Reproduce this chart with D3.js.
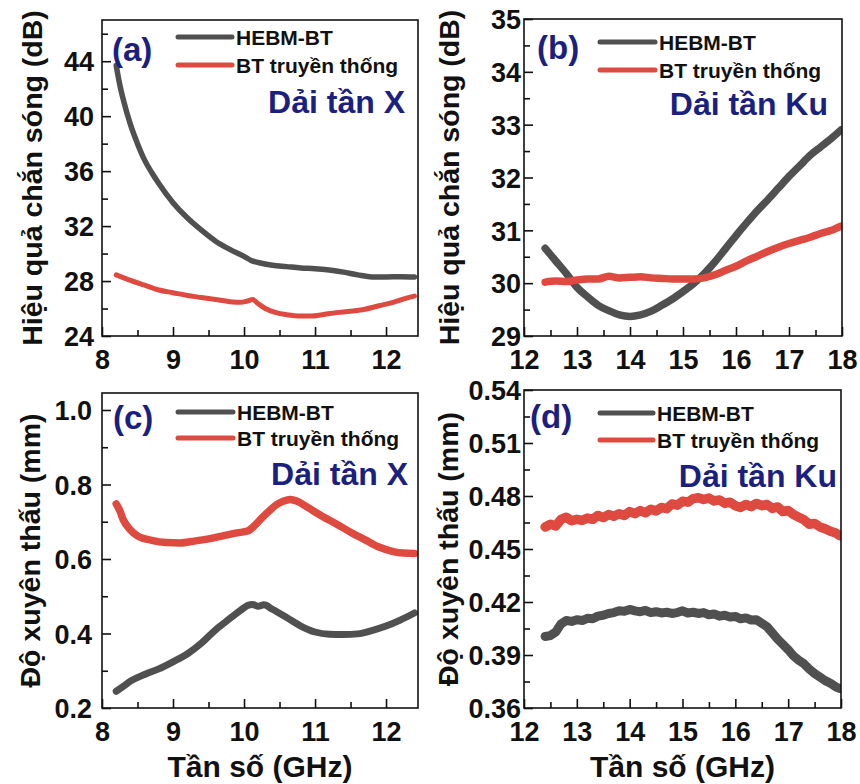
<!DOCTYPE html>
<html><head><meta charset="utf-8">
<script src="https://cdn.jsdelivr.net/npm/d3@7"></script>
<style>
body{margin:0;background:#fff;}
svg text{font-family:"Liberation Sans",Arial,Helvetica,sans-serif;font-weight:bold;}
</style></head>
<body><svg id="c" width="860" height="784"></svg>
<script>
// ---------- data ----------
const seriesNames = ["HEBM-BT", "BT truyền thống"];
const bandLabels = ["Dải tần X", "Dải tần Ku"];
const panelLetters = ["(a)", "(b)", "(c)", "(d)"];
const yTitleSE = "Hiệu quả chắn sóng (dB)";
const yTitleDepth = "Độ xuyên thấu (mm)";
const xTitle = "Tần số (GHz)";

const xTicksX = [8, 9, 10, 11, 12];
const xTicksKu = [12, 13, 14, 15, 16, 17, 18];
const yTicksA = [24, 28, 32, 36, 40, 44];
const yTicksB = [29, 30, 31, 32, 33, 34, 35];
const yTicksC = [0.2, 0.4, 0.6, 0.8, 1.0];
const yTicksD = [0.36, 0.39, 0.42, 0.45, 0.48, 0.51, 0.54];

// (a) shielding effectiveness, X band
const freqA_HEBM = [8.20,8.25,8.30,8.40,8.50,8.60,8.70,8.80,9.00,9.20,9.40,9.60,9.80,10.00,10.10,10.20,10.40,10.60,10.80,11.00,11.20,11.40,11.60,11.80,12.00,12.20,12.40];
const seA_HEBM   = [43.7,42.3,41.2,39.4,38.0,36.8,35.9,35.1,33.7,32.6,31.7,30.9,30.3,29.8,29.5,29.35,29.15,29.05,28.95,28.9,28.8,28.65,28.45,28.3,28.3,28.32,28.3];
const freqA_BT   = [8.20,8.40,8.60,8.80,9.00,9.20,9.40,9.60,9.80,9.95,10.05,10.12,10.20,10.30,10.45,10.60,10.80,10.95,11.10,11.30,11.50,11.70,11.90,12.10,12.25,12.40];
const seA_BT     = [28.45,28.05,27.7,27.35,27.15,26.95,26.8,26.65,26.5,26.45,26.55,26.65,26.35,26.0,25.7,25.55,25.45,25.45,25.55,25.7,25.8,25.95,26.2,26.45,26.7,26.9];

// (b) shielding effectiveness, Ku band
const freqB_HEBM = [12.40,12.60,12.80,13.00,13.20,13.40,13.60,13.80,14.00,14.20,14.40,14.60,14.80,15.00,15.20,15.40,15.60,15.80,16.00,16.20,16.40,16.60,16.80,17.00,17.20,17.40,17.60,17.80,17.98];
const seB_HEBM   = [30.66,30.42,30.18,29.92,29.74,29.58,29.48,29.40,29.37,29.40,29.47,29.58,29.70,29.84,29.99,30.18,30.40,30.65,30.90,31.14,31.37,31.58,31.80,32.02,32.22,32.42,32.58,32.74,32.90];
const freqB_BT   = [12.40,12.60,12.80,13.00,13.20,13.40,13.60,13.80,14.00,14.20,14.40,14.60,14.80,15.00,15.20,15.40,15.60,15.80,16.00,16.20,16.40,16.60,16.80,17.00,17.20,17.40,17.60,17.80,17.98];
const seB_BT     = [30.02,30.04,30.03,30.06,30.08,30.08,30.13,30.10,30.11,30.12,30.10,30.09,30.08,30.08,30.08,30.10,30.16,30.24,30.32,30.42,30.51,30.60,30.68,30.75,30.81,30.87,30.94,31.00,31.08];

// (c) skin depth, X band
const freqC_HEBM = [8.20,8.30,8.40,8.60,8.80,9.00,9.20,9.40,9.60,9.80,9.95,10.05,10.12,10.20,10.28,10.40,10.60,10.80,11.00,11.20,11.40,11.60,11.80,12.00,12.20,12.40];
const depthC_HEBM= [0.245,0.258,0.272,0.290,0.305,0.324,0.345,0.374,0.410,0.440,0.462,0.475,0.478,0.473,0.477,0.465,0.443,0.420,0.404,0.398,0.397,0.399,0.408,0.420,0.436,0.455];
const freqC_BT   = [8.20,8.25,8.30,8.40,8.50,8.70,8.90,9.10,9.30,9.50,9.70,9.90,10.05,10.15,10.25,10.35,10.45,10.55,10.65,10.75,10.90,11.10,11.30,11.50,11.70,11.90,12.10,12.25,12.40];
const depthC_BT  = [0.748,0.730,0.705,0.678,0.662,0.650,0.644,0.643,0.648,0.654,0.662,0.670,0.675,0.690,0.710,0.728,0.745,0.755,0.760,0.755,0.738,0.715,0.694,0.672,0.652,0.632,0.620,0.616,0.615];

// (d) skin depth, Ku band
const freqD = [12.40,12.50,12.60,12.70,12.80,12.90,13.00,13.10,13.20,13.30,13.40,13.50,13.60,13.70,13.80,13.90,14.00,14.10,14.20,14.30,14.40,14.50,14.60,14.70,14.80,14.90,15.00,15.10,15.20,15.30,15.40,15.50,15.60,15.70,15.80,15.90,16.00,16.10,16.20,16.30,16.40,16.50,16.60,16.70,16.80,16.90,17.00,17.10,17.20,17.30,17.40,17.50,17.60,17.70,17.80,17.90,17.98];
const depthD_BT = [0.4625,0.4640,0.4630,0.4668,0.4680,0.4660,0.4668,0.4662,0.4675,0.4668,0.4690,0.4678,0.4695,0.4685,0.4700,0.4690,0.4712,0.4700,0.4718,0.4705,0.4725,0.4715,0.4735,0.4728,0.4755,0.4748,0.4770,0.4765,0.4785,0.4790,0.4780,0.4788,0.4772,0.4778,0.4758,0.4765,0.4745,0.4735,0.4752,0.4740,0.4758,0.4745,0.4752,0.4730,0.4738,0.4712,0.4718,0.4695,0.4680,0.4665,0.4640,0.4645,0.4625,0.4615,0.4600,0.4590,0.4575];
const depthD_HEBM = [0.4005,0.4010,0.4030,0.4075,0.4095,0.4090,0.4100,0.4095,0.4108,0.4105,0.4120,0.4125,0.4135,0.4140,0.4150,0.4148,0.4158,0.4150,0.4145,0.4152,0.4140,0.4145,0.4138,0.4142,0.4135,0.4140,0.4150,0.4138,0.4142,0.4135,0.4140,0.4128,0.4132,0.4120,0.4125,0.4115,0.4118,0.4105,0.4110,0.4098,0.4100,0.4080,0.4060,0.4025,0.3990,0.3960,0.3930,0.3895,0.3870,0.3850,0.3820,0.3795,0.3775,0.3755,0.3740,0.3720,0.3710];

// ---------- styling ----------
const GRAY = "#505050", RED = "#de4a3f", NAVY = "#1b1f80";
const svg = d3.select("#c");

const panels = [
  {box:[102,20,418,336], xd:[8,12.45], yd:[24,47], xt:xTicksX, yt:yTicksA, xm:0.5, ym:2, yfmt:d3.format("d"),
   series:[[freqA_HEBM,seA_HEBM],[freqA_BT,seA_BT]], sw:[5.5,5], letter:panelLetters[0], band:bandLabels[0],
   ytitle:yTitleSE, ytx:32, lab:[10,41], leg:[76,130,17,45], bandPos:[303,93], ylGap:8, xtitle:false, curve:d3.curveMonotoneX},
  {box:[524,19,842,336], xd:[12,18], yd:[29,35], xt:xTicksKu, yt:yTicksB, xm:0.5, ym:0.5, yfmt:d3.format("d"),
   series:[[freqB_HEBM,seB_HEBM],[freqB_BT,seB_BT]], sw:[7.5,7.5], letter:panelLetters[1], band:bandLabels[1],
   ytitle:yTitleSE, ytx:449, lab:[13,40], leg:[76,131,23,51], bandPos:[304,96], ylGap:3, xtitle:false, curve:d3.curveMonotoneX},
  {box:[102,393,418,708], xd:[8,12.45], yd:[0.2,1.0456], xt:xTicksX, yt:yTicksC, xm:0.5, ym:0.1, yfmt:d3.format(".1f"),
   series:[[freqC_HEBM,depthC_HEBM],[freqC_BT,depthC_BT]], sw:[7,7.5], letter:panelLetters[2], band:bandLabels[0],
   ytitle:yTitleDepth, ytx:30, lab:[11,36], leg:[76,131,19,45], bandPos:[306,92], ylGap:10, xtitle:true, curve:d3.curveMonotoneX},
  {box:[524,390,841,708], xd:[12,18], yd:[0.36,0.54], xt:xTicksKu, yt:yTicksD, xm:0.5, ym:0.015, yfmt:d3.format(".2f"),
   series:[[freqD,depthD_HEBM],[freqD,depthD_BT]], sw:[9,9.5], letter:panelLetters[3], band:bandLabels[1],
   ytitle:yTitleDepth, ytx:448, lab:[6,38], leg:[76,129,23,50], bandPos:[313,97], ylGap:3, xtitle:true, curve:d3.curveLinear}
];

const colors = [GRAY, RED];

panels.forEach(p => {
  const [x0,y0,x1,y1] = p.box;
  const x = d3.scaleLinear().domain(p.xd).range([x0,x1]);
  const y = d3.scaleLinear().domain(p.yd).range([y1,y0]);
  const g = svg.append("g");

  const cid = "clip" + p.letter.replace(/\W/g,"");
  svg.append("clipPath").attr("id",cid).append("rect").attr("x",x0).attr("y",y0).attr("width",x1-x0).attr("height",y1-y0);

  const line = d3.line().x(d=>x(d[0])).y(d=>y(d[1])).curve(p.curve);
  p.series.forEach((s,i) => {
    const pts = s[0].map((f,k)=>[f,s[1][k]]);
    g.append("path").attr("d",line(pts)).attr("fill","none").attr("stroke",colors[i])
     .attr("stroke-width",p.sw[i]).attr("stroke-linejoin","round").attr("stroke-linecap","round")
     .attr("clip-path",`url(#${cid})`);
  });

  g.append("rect").attr("x",x0).attr("y",y0).attr("width",x1-x0).attr("height",y1-y0)
   .attr("fill","none").attr("stroke","#111").attr("stroke-width",1.6);

  // x axis (inward ticks)
  const xMinor = d3.range(p.xd[0], p.xd[1]+1e-9, p.xm).filter(v=>!p.xt.some(t=>Math.abs(t-v)<1e-9));
  const xa = d3.axisBottom(x).tickValues(p.xt).tickSize(-9).tickPadding(14).tickFormat(d3.format("d"));
  const gx = g.append("g").attr("transform",`translate(0,${y1})`).call(xa);
  gx.select(".domain").remove();
  gx.selectAll(".tick line").attr("stroke","#111").attr("stroke-width",1.6);
  gx.selectAll("text").attr("font-size",27).attr("fill","#111").attr("dy","0.72em");
  const xm = d3.axisBottom(x).tickValues(xMinor).tickSize(-6).tickFormat("");
  const gxm = g.append("g").attr("transform",`translate(0,${y1})`).call(xm);
  gxm.select(".domain").remove();
  gxm.selectAll(".tick line").attr("stroke","#111").attr("stroke-width",1.6);

  // y axis
  const yMinor = d3.range(p.yd[0], p.yd[1]+1e-9, p.ym).filter(v=>!p.yt.some(t=>Math.abs(t-v)<1e-6));
  const ya = d3.axisLeft(y).tickValues(p.yt).tickSize(-9).tickPadding(p.ylGap).tickFormat(p.yfmt);
  const gy = g.append("g").attr("transform",`translate(${x0},0)`).call(ya);
  gy.select(".domain").remove();
  gy.selectAll(".tick line").attr("stroke","#111").attr("stroke-width",1.6);
  gy.selectAll("text").attr("font-size",27).attr("fill","#111").attr("dy","0.36em");
  const ym = d3.axisLeft(y).tickValues(yMinor).tickSize(-6).tickFormat("");
  const gym = g.append("g").attr("transform",`translate(${x0},0)`).call(ym);
  gym.select(".domain").remove();
  gym.selectAll(".tick line").attr("stroke","#111").attr("stroke-width",1.6);

  g.append("text").attr("transform",`translate(${p.ytx},${(y0+y1)/2}) rotate(-90)`)
   .attr("text-anchor","middle").attr("dy","0.36em").attr("font-size",28.5).attr("fill","#111").text(p.ytitle);

  if (p.xtitle) {
    g.append("text").attr("x",(x0+x1)/2).attr("y",777).attr("text-anchor","middle")
     .attr("font-size",30).attr("fill","#111").text(xTitle);
  }

  g.append("text").attr("x",x0+p.lab[0]).attr("y",y0+p.lab[1]).attr("font-size",33).attr("fill",NAVY).text(p.letter);

  const [lx0,lx1,ly0,ly1] = p.leg;
  [ly0,ly1].forEach((ly,i)=>{
    g.append("line").attr("x1",x0+lx0).attr("x2",x0+lx1).attr("y1",y0+ly).attr("y2",y0+ly)
     .attr("stroke",colors[i]).attr("stroke-width",5).attr("stroke-linecap","round");
    g.append("text").attr("x",x0+lx1+4).attr("y",y0+ly).attr("dy","0.36em").attr("font-size",21)
     .attr("fill","#111").text(seriesNames[i]);
  });

  g.append("text").attr("x",x0+p.bandPos[0]).attr("y",y0+p.bandPos[1]).attr("text-anchor","end")
   .attr("font-size",32).attr("fill",NAVY).text(p.band);
});
</script></body></html>
